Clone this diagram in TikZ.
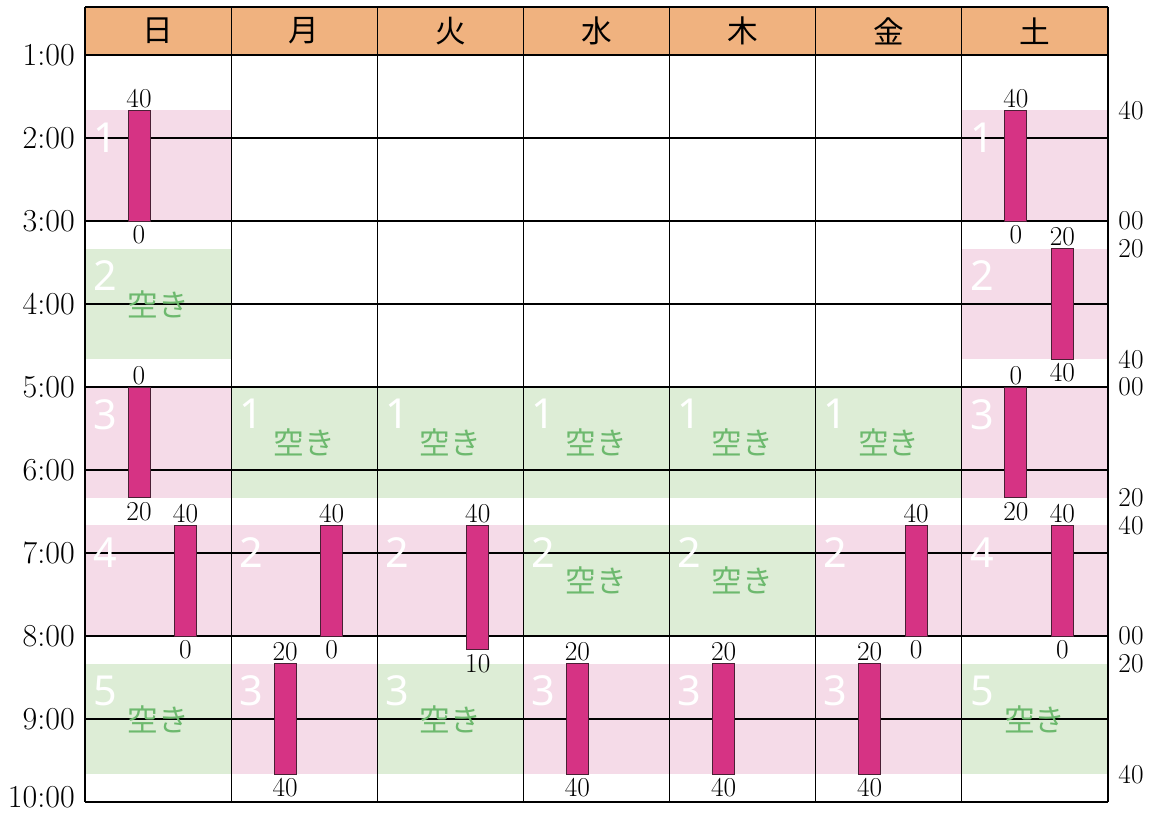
\documentclass[tikz,border=0pt]{standalone}
\usepackage{fontspec}
\newfontfamily\jpfont{Noto Sans CJK JP}
\newfontfamily\digfont{Noto Sans}
\definecolor{hdr}{HTML}{F0B27F}
\definecolor{pinkbg}{HTML}{F5DBE8}
\definecolor{greenbg}{HTML}{DDEDD6}
\definecolor{barfill}{HTML}{D63384}
\definecolor{barline}{HTML}{4A2035}
\definecolor{freetxt}{HTML}{6DB96E}
\tikzset{
  gridline/.style={black, line width=0.8pt},
  blkdigit/.style={anchor=north west, inner sep=0pt, text=white, font=\digfont\fontsize{31}{31}\selectfont},
  freelbl/.style={inner sep=0pt, text=freetxt, font=\jpfont\fontsize{23}{23}\selectfont},
  barbox/.style={fill=barfill, draw=barline, line width=0.6pt},
  barlbl/.style={inner sep=0pt, font=\fontsize{20.5}{20.5}\selectfont},
  timelbl/.style={anchor=east, inner sep=0pt, font=\fontsize{24}{24}\selectfont},
  daylbl/.style={inner sep=0pt, font=\jpfont\fontsize{23}{23}\selectfont},
}
\newcommand\Blk[5]{%
  \fill[#4] ({85+146.14*#1},#2) rectangle ({85+146.14*(#1+1)},#3);}
\newcommand\BlkDigit[3]{%
  \node[blkdigit] (d#1-#3) at ({85+146.14*#1+8},{#2+12}) {#3};}
\newcommand\Free[3]{%
  \node[freelbl] (f#1-#3) at ({85+146.14*#1+73.07},#2) {空き};}
\newcommand\Bar[6]{%
  \draw[barbox] ({85+146.14*#1+#2},#3) rectangle ({85+146.14*#1+#2+22},#4);
  \node[barlbl, anchor=south] at ({85+146.14*#1+#2+11},{#3-2}) {#5};
  \node[barlbl, anchor=north] at ({85+146.14*#1+#2+11},{#4+4}) {#6};}
\begin{document}
\begin{tikzpicture}[x=0.75pt,y=-0.75pt]
\useasboundingbox (0,0) rectangle (1161,813);
\fill[hdr] (85,7) rectangle (1108,55);
\Blk{0}{110.33}{221}{pinkbg}{1}
\Blk{0}{248.67}{359.33}{greenbg}{2}
\Blk{0}{387}{497.67}{pinkbg}{3}
\Blk{0}{525.33}{636}{pinkbg}{4}
\Blk{0}{663.67}{774.33}{greenbg}{5}
\Blk{1}{387}{497.67}{greenbg}{1}
\Blk{1}{525.33}{636}{pinkbg}{2}
\Blk{1}{663.67}{774.33}{pinkbg}{3}
\Blk{2}{387}{497.67}{greenbg}{1}
\Blk{2}{525.33}{636}{pinkbg}{2}
\Blk{2}{663.67}{774.33}{greenbg}{3}
\Blk{3}{387}{497.67}{greenbg}{1}
\Blk{3}{525.33}{636}{greenbg}{2}
\Blk{3}{663.67}{774.33}{pinkbg}{3}
\Blk{4}{387}{497.67}{greenbg}{1}
\Blk{4}{525.33}{636}{greenbg}{2}
\Blk{4}{663.67}{774.33}{pinkbg}{3}
\Blk{5}{387}{497.67}{greenbg}{1}
\Blk{5}{525.33}{636}{pinkbg}{2}
\Blk{5}{663.67}{774.33}{pinkbg}{3}
\Blk{6}{110.33}{221}{pinkbg}{1}
\Blk{6}{248.67}{359.33}{pinkbg}{2}
\Blk{6}{387}{497.67}{pinkbg}{3}
\Blk{6}{525.33}{636}{pinkbg}{4}
\Blk{6}{663.67}{774.33}{greenbg}{5}
\foreach \i in {0,...,7} \draw[gridline] ({85+146.14*\i},7) -- ({85+146.14*\i},802);
\draw[gridline] (85,7) -- (1108,7);
\foreach \h in {0,...,9} \draw[gridline] (85,{55+83*\h}) -- (1108,{55+83*\h});
\foreach \d [count=\i from 0] in {日,月,火,水,木,金,土}
  \node[daylbl] (day\i) at ({85+146.14*\i+73.07},31) {\d};
\foreach \h in {1,...,9}
  \node[timelbl] (t\h) at (75,{55+83*(\h-1)}) {\h:00};
\node[timelbl] (t10) at (75,797) {10:00};
\BlkDigit{0}{110.33}{1}
\BlkDigit{0}{248.67}{2}
\BlkDigit{0}{387}{3}
\BlkDigit{0}{525.33}{4}
\BlkDigit{0}{663.67}{5}
\foreach \c in {1,...,5}{
  \BlkDigit{\c}{387}{1}
  \BlkDigit{\c}{525.33}{2}
  \BlkDigit{\c}{663.67}{3}
}
\BlkDigit{6}{110.33}{1}
\BlkDigit{6}{248.67}{2}
\BlkDigit{6}{387}{3}
\BlkDigit{6}{525.33}{4}
\BlkDigit{6}{663.67}{5}
\Free{0}{304}{2}
\Free{0}{719}{5}
\Free{1}{442.33}{1}
\Free{2}{442.33}{1}
\Free{2}{719}{3}
\Free{3}{442.33}{1}
\Free{3}{580.67}{2}
\Free{4}{442.33}{1}
\Free{4}{580.67}{2}
\Free{5}{442.33}{1}
\Free{6}{719}{5}
\Bar{0}{43}{110.33}{221}{40}{0}
\Bar{0}{43}{387}{497.67}{0}{20}
\Bar{0}{89.5}{525.33}{636}{40}{0}
\Bar{1}{89.5}{525.33}{636}{40}{0}
\Bar{1}{43}{663.67}{774.33}{20}{40}
\Bar{2}{89.5}{525.33}{649.83}{40}{10}
\Bar{3}{43}{663.67}{774.33}{20}{40}
\Bar{4}{43}{663.67}{774.33}{20}{40}
\Bar{5}{89.5}{525.33}{636}{40}{0}
\Bar{5}{43}{663.67}{774.33}{20}{40}
\Bar{6}{43}{110.33}{221}{40}{0}
\Bar{6}{89.5}{248.67}{359.33}{20}{40}
\Bar{6}{43}{387}{497.67}{0}{20}
\Bar{6}{89.5}{525.33}{636}{40}{0}
\foreach \y/\m [count=\k] in {110.33/40,221/00,248.67/20,359.33/40,387/00,497.67/20,525.33/40,636/00,663.67/20,774.33/40}
  \node[barlbl] (r\k) at (1131,\y) {\m};
\end{tikzpicture}
\end{document}
